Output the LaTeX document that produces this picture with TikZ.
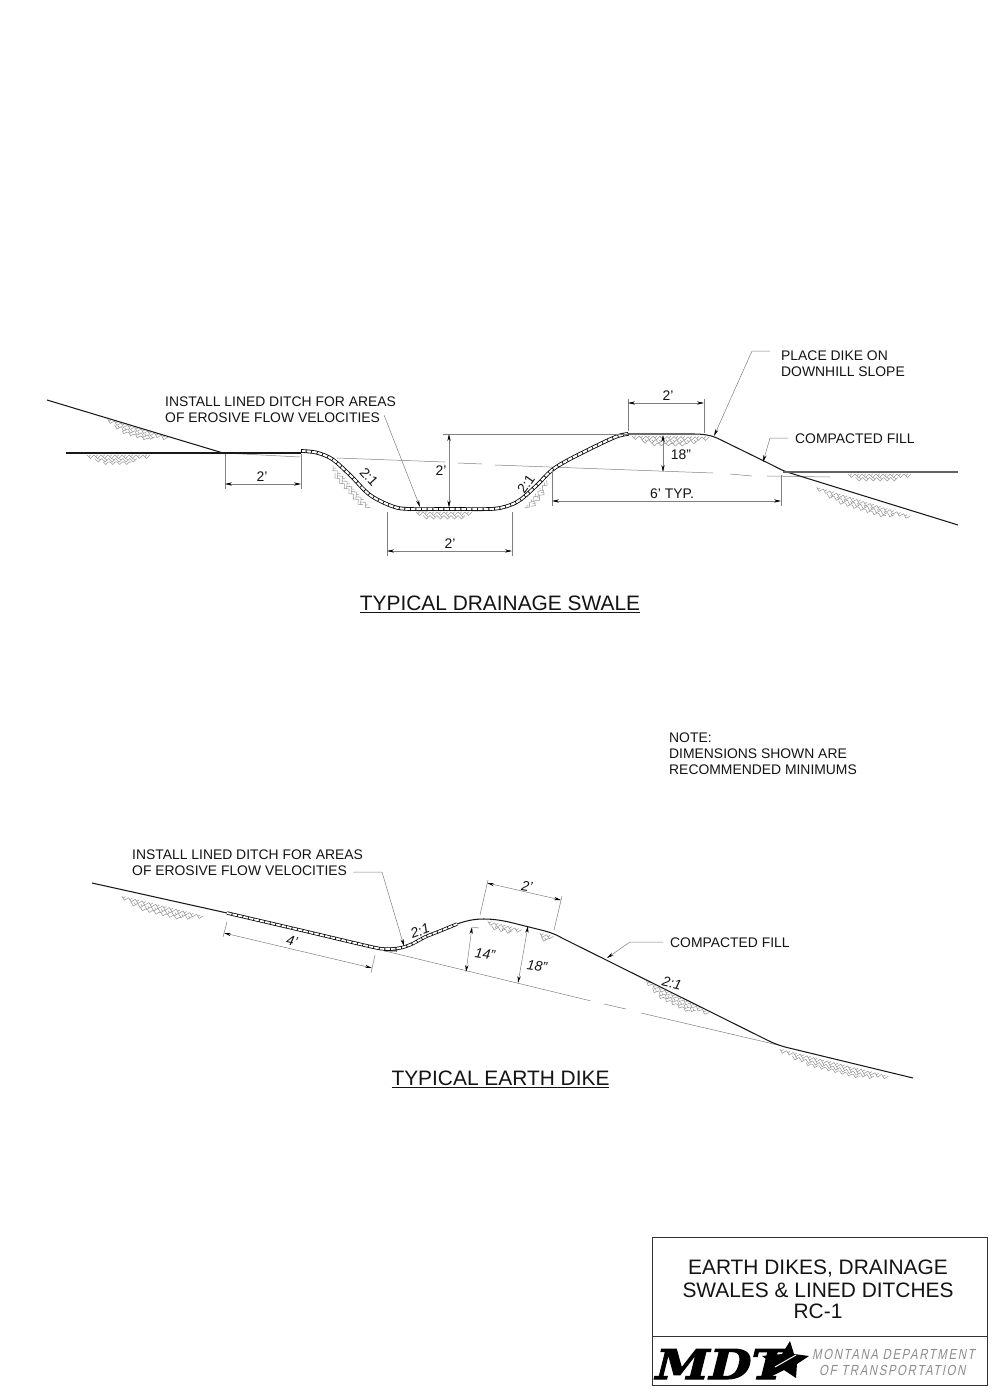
\documentclass[tikz,border=0pt]{standalone}
\usepackage{fontspec}
\setmainfont{Liberation Sans}
\newfontfamily\logofont[FakeSlant=0.25,FakeStretch=1.18,FakeBold=3]{DejaVu Serif Bold}
\newfontfamily\thinfont[FakeStretch=0.78,LetterSpace=11,FakeSlant=0.2]{Liberation Sans}
\usetikzlibrary{arrows.meta}
\definecolor{dimgray}{gray}{0.5}
\definecolor{hatchgray}{gray}{0.6}
\tikzset{
  ground/.style={line width=1.05pt,black!90},
  thinline/.style={line width=0.5pt,dimgray},
  dimline/.style={line width=0.5pt,dimgray,{Stealth[length=7pt,width=3.2pt,black]}-{Stealth[length=7pt,width=3.2pt,black]}},
  leaderline/.style={line width=0.5pt,dimgray,-{Stealth[length=7pt,width=3.2pt,black]}},
  lbl/.style={inner sep=0pt,font=\fontsize{13.9}{16}\selectfont,align=left,text=black!92},
  dimtext/.style={inner sep=0pt,font=\fontsize{13.9}{16}\selectfont,text=black!92},
  dimital/.style={inner sep=0pt,font=\fontsize{13.9}{16}\selectfont\itshape,text=black!92},
  titletext/.style={inner sep=0pt,font=\fontsize{20.9}{21}\selectfont,text=black!92},
  liningouter/.style={line width=3.7pt,black},
  liningthin/.style={line width=2.1pt,white,dash pattern=on 4.6pt off 1pt},
}
% herringbone earth band between two points, in pixel coordinates
\newcommand{\earthband}[4]{%
  \pgfmathsetmacro{\bl}{veclen(#3-#1,#4-#2)}%
  \pgfmathsetmacro{\ux}{(#3-#1)/\bl}%
  \pgfmathsetmacro{\uy}{(#4-#2)/\bl}%
  \pgfmathsetmacro{\nsteps}{int(\bl/7)}%
  \pgfmathsetmacro{\nin}{int(\nsteps*0.75)}%
  \pgfmathsetmacro{\nthird}{int(\nsteps*0.5)}%
  \begin{scope}[shift={(#1,#2)},x={(\ux pt,-\uy pt)},y={(-\uy pt,-\ux pt)},hatchgray,line width=0.55pt]
    \foreach \i in {1,...,\nsteps}{
      \pgfmathsetmacro{\xa}{(\i-1)*7}
      \draw (\xa,1) -- ++(3.5,3.5) -- ++(3.5,-3.5);
      \draw (\xa+1.7,2.7) -- ++(2,-2);
    }
    \foreach \i in {1,...,\nin}{
      \pgfmathsetmacro{\xb}{0.12*\bl+(\i-1)*7}
      \draw (\xb,4.5) -- ++(3.5,3.5) -- ++(3.5,-3.5);
      \draw (\xb+3.5,4.5) -- ++(1.7,1.7);
    }
    \ifdim\bl pt>64pt
    \foreach \i in {1,...,\nthird}{
      \pgfmathsetmacro{\xc}{0.25*\bl+(\i-1)*7}
      \draw (\xc,8) -- ++(2.5,2.5) -- ++(2.5,-2.5) -- ++(2,0);
    }
    \fi
  \end{scope}%
}
\begin{document}
\begin{tikzpicture}[x=1pt,y=-1pt]
\useasboundingbox (0,0) rectangle (997,1396);
\fill[white] (0,0) rectangle (997,1396);

% ===== SWALE: earth hatching
\earthband{108}{418}{174}{438}
\earthband{87}{454}{152}{454}
\earthband{334}{465}{372}{508}
\earthband{416}{511}{474}{511}
\earthband{524}{507}{548}{477}
\earthband{632}{435}{712}{436}
\earthband{848}{473}{912}{473}
\earthband{817}{486}{914}{516}

% ===== SWALE: existing ground
\draw[thinline] (223,453) -- (300,457);
\draw[thinline] (337,458) -- (445,462);
\draw[thinline] (458,463) -- (482,464);
\draw[thinline] (495,465) -- (713,473);
\draw[thinline] (730,474) -- (752,476);
\draw[thinline] (767,476) -- (830,477);

% ===== SWALE: ground lines
\draw[ground] (47,400) -- (223,453);
\draw[ground] (66,453) -- (301,453);
\draw[ground] (628,434) -- (693,434) .. controls (703,434) and (710,435) .. (717,438) -- (770,464) .. controls (778,468) and (783,471) .. (790,473) -- (958,525);
\draw[line width=1.2pt,black!62] (783,472) -- (958,472);

% ===== SWALE: lining
\def\swalelining{plot[smooth,tension=0.55] coordinates {(301,451) (316,452.5) (332,459) (350,475) (370,495) (393,506.5) (410,509) (450,509) (490,509) (506,506.5) (520,500) (537,485) (552,470) (570,459) (600,444) (618,436) (628,434)}}
\draw[liningouter] \swalelining;
\draw[liningthin] \swalelining;
\draw[line width=0.6pt,black] (301,449.2) -- (301,452.8);
\draw[line width=0.6pt,black] (627.6,432.2) -- (628.4,435.8);

% ===== SWALE: dimensions
\draw[thinline] (225,454) -- (225,489);
\draw[thinline] (301,454) -- (301,489);
\draw[dimline] (225,484) -- (301,484);
\node[dimtext] (sw2a) at (262,477) {2'};
\draw[thinline] (387,512) -- (387,556);
\draw[thinline] (512,512) -- (512,556);
\draw[dimline] (387,551) -- (512,551);
\node[dimtext] (sw2b) at (450,544) {2'};
\draw[thinline] (443,434) -- (628,434);
\draw[dimline] (449,434) -- (449,507.5);
\node[dimtext] (sw2c) at (441,471) {2'};
\draw[thinline] (628,399) -- (628,431);
\draw[thinline] (704,399) -- (704,433);
\draw[dimline] (628,403) -- (704,403);
\node[dimtext] (sw2d) at (668,396) {2'};
\draw[dimline] (663,435) -- (663,472);
\node[dimtext] (sw18) at (681,455) {18"};
\draw[thinline] (552,470) -- (552,506);
\draw[thinline] (781,475) -- (781,506);
\draw[dimline] (552,501) -- (781,501);
\node[dimtext] (sw6) at (672,494) {6' TYP.};
\node[dimtext,rotate=-47] (sw21a) at (369,477) {2:1};
\node[dimtext,rotate=55] (sw21b) at (526,484) {2:1};

% ===== SWALE: labels and leaders
\node[lbl,anchor=west] (swinstall) at (165,410) {INSTALL LINED DITCH FOR AREAS\\OF EROSIVE FLOW VELOCITIES};
\draw[leaderline] (384,415) -- (420,507);
\node[lbl,anchor=west] (swplace) at (781,364) {PLACE DIKE ON\\DOWNHILL SLOPE};
\draw[leaderline] (770,351) -- (752,351) -- (714,436);
\node[lbl,anchor=west] (swfill) at (795,439) {COMPACTED FILL};
\draw[leaderline] (788,438) -- (770,438) -- (763,462);
\node[titletext] (swtitle) at (500,604) {\underline{TYPICAL DRAINAGE SWALE}};

% ===== NOTE
\node[lbl,anchor=west] (note) at (669,754) {NOTE:\\DIMENSIONS SHOWN ARE\\RECOMMENDED MINIMUMS};

% ===== DIKE: earth hatching
\earthband{122}{895}{204}{915}
\earthband{488}{920}{527}{930}
\earthband{540}{932}{560}{937}
\earthband{647}{980}{710}{1012}
\earthband{780}{1048}{892}{1076}

% ===== DIKE: existing ground
\draw[thinline] (385,951) -- (590,1000.7);
\draw[thinline] (604,1004) -- (626,1009);
\draw[thinline] (641,1013) -- (778,1045);

% ===== DIKE: ground lines
\draw[ground] (92,883) -- (227,913);
\draw[ground] (457,924) .. controls (468,920) and (476,919) .. (484,919) .. controls (495,919) and (505,921) .. (513,923) -- (545,931) .. controls (552,933) and (557,935) .. (562,938) -- (767,1040) .. controls (773,1043) and (778,1045) .. (785,1047) -- (913,1078);
\draw[ground] (384,950.5) -- (397,951);

% ===== DIKE: lining
\def\dikelining{plot[smooth,tension=0.5] coordinates {(227,913) (300,930) (370,946.5) (385,949) (400,948) (412,944) (425,937) (440,931) (457,924)}}
\draw[line width=3.3pt,black] \dikelining;
\draw[line width=1.8pt,white,dash pattern=on 4.6pt off 1pt] \dikelining;

% ===== DIKE: dimensions
\draw[thinline] (227,922) -- (223,937);
\draw[thinline] (375,955) -- (371,973);
\draw[dimline] (224,933) -- (372,968);
\node[dimital,rotate=-12] (dk4) at (292,941) {4'};
\draw[thinline] (472,927) -- (479,928);
\draw[dimline] (466,972) -- (472,927);
\node[dimital,rotate=-8] (dk14) at (485,954) {14"};
\draw[dimline] (518,983) -- (528,926);
\node[dimital,rotate=-8] (dk18) at (537,966) {18"};
\draw[thinline] (480,915) -- (488,880);
\draw[thinline] (554,930) -- (562,896);
\draw[dimline] (487,883) -- (561,900);
\node[dimital,rotate=-8] (dk2) at (527,886) {2'};
\node[dimital,rotate=20] (dk21a) at (420,931) {2:1};
\node[dimital,rotate=-14] (dk21b) at (672,983) {2:1};

% ===== DIKE: labels and leaders
\node[lbl,anchor=west] (dkinstall) at (132,863) {INSTALL LINED DITCH FOR AREAS\\OF EROSIVE FLOW VELOCITIES};
\draw[leaderline] (353,872) -- (382,872) -- (404,946);
\node[lbl,anchor=west] (dkfill) at (670,943) {COMPACTED FILL};
\draw[leaderline] (663,942) -- (630,942) -- (607,958);
\node[titletext] (dktitle) at (500.5,1079) {\underline{TYPICAL EARTH DIKE}};

% ===== TITLE BLOCK
\draw[line width=0.6pt,black!80] (652,1237) rectangle (987,1385);
\draw[line width=0.6pt,black!80] (652,1336) -- (987,1336);
\node[titletext] (tb1) at (818,1269) {EARTH DIKES, DRAINAGE};
\node[titletext] (tb2) at (818,1290) {SWALES \& LINED DITCHES};
\node[titletext] (tb3) at (818,1311) {RC-1};

% logo
\node[inner sep=0pt,anchor=base west,font=\fontsize{41}{43}\selectfont\logofont,text=black] (logo) at (652,1379) {MDT};
\fill[black] (790,1341) -- (794,1354) -- (809,1356) -- (797,1364) -- (796,1378) -- (784,1370) -- (768,1378) -- (773,1364) -- (762,1356) -- (782,1354) -- cycle;
\draw[white,line width=1pt] (775,1367) -- (796,1355);

\node[inner sep=0pt,anchor=west,font=\fontsize{14.6}{15}\selectfont\thinfont,text=black!45] (mont) at (812,1354) {MONTANA DEPARTMENT};
\node[inner sep=0pt,anchor=west,font=\fontsize{14.6}{15}\selectfont\thinfont,text=black!45] (dept) at (819,1370) {OF TRANSPORTATION};
\end{tikzpicture}
\end{document}
